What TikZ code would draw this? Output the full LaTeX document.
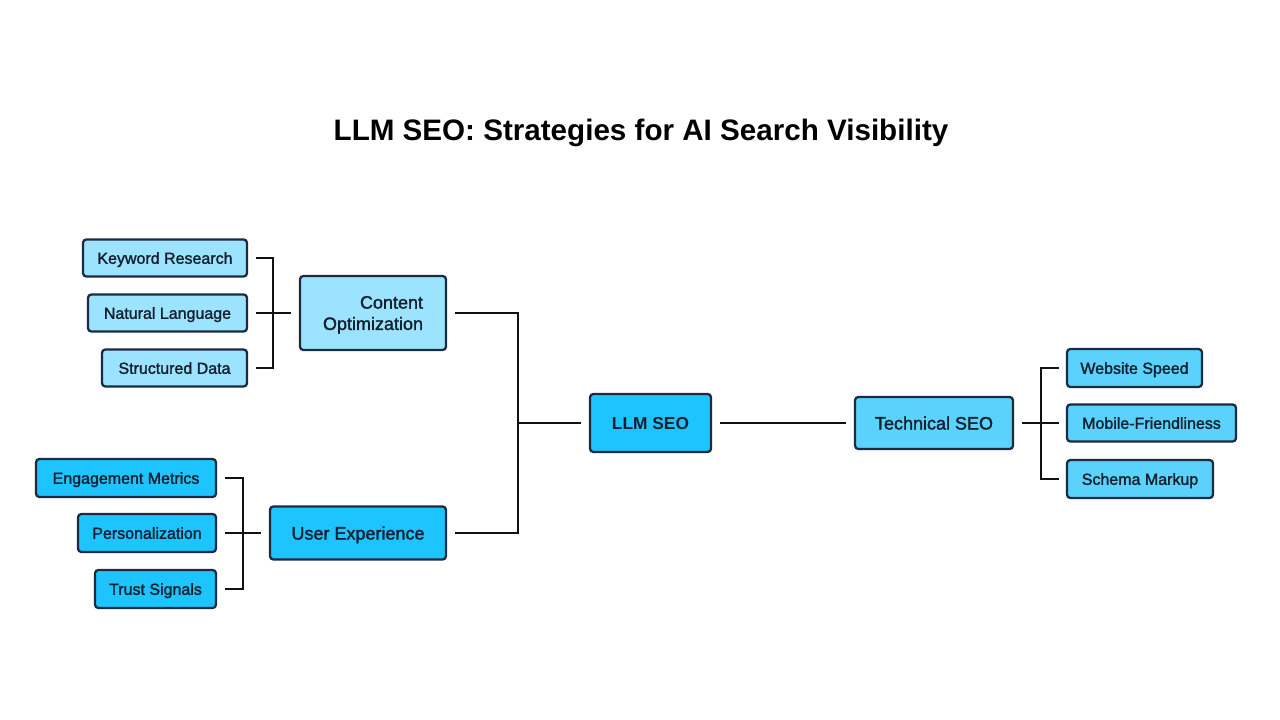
\documentclass[tikz,border=0pt]{standalone}
\usepackage{fontspec}
\setmainfont{Liberation Sans}
\newfontfamily\labfont[FakeBold=1.6]{Liberation Sans}
\newfontfamily\titfont{Liberation Sans}
\begin{document}
\begin{tikzpicture}[x=0.75pt,y=-0.75pt,
  box/.style={draw=boxline, line width=1.7pt, rounded corners=2.5pt, inner sep=0pt, text depth=0pt, text=textc, font=\labfont\fontsize{12}{13}\selectfont},
  light/.style={box, fill=lightc},
  mid/.style={box, fill=midc},
  strong/.style={box, fill=strongc},
  big/.style={font=\labfont\fontsize{13.5}{16}\selectfont},
  conn/.style={draw=linec, line width=1.9pt}]
\definecolor{lightc}{HTML}{9CE3FF}
\definecolor{midc}{HTML}{5AD2FB}
\definecolor{strongc}{HTML}{1DC4FF}
\definecolor{boxline}{HTML}{1C2B40}
\definecolor{textc}{HTML}{14202E}
\definecolor{linec}{HTML}{111111}
\useasboundingbox[fill=white] (0,0) rectangle (1280,720);

\node[font=\titfont\bfseries\fontsize{22.2}{26}\selectfont, text=black] (title) at (641,133) {LLM SEO: Strategies for AI Search Visibility};

% Content group
\node[light, minimum width=123pt, minimum height=27.75pt] (kw) at (165,258) {Keyword Research};
\node[light, minimum width=119.25pt, minimum height=27.75pt] (nl) at (167.5,313) {Natural Language};
\node[light, minimum width=108.75pt, minimum height=27.75pt] (sd) at (174.5,368) {Structured Data};
\node[light, big, align=right, minimum width=109.5pt, minimum height=55.5pt] (co) at (373,313) {Content\\Optimization};

% User experience group
\node[strong, minimum width=135pt, minimum height=28.5pt] (em) at (126,478) {Engagement Metrics};
\node[strong, minimum width=103.5pt, minimum height=28.5pt] (pe) at (147,533) {Personalization};
\node[strong, minimum width=90.75pt, minimum height=28.5pt] (ts) at (155.5,589) {Trust Signals};
\node[strong, big, minimum width=132pt, minimum height=39.75pt] (ux) at (358,533) {User Experience};

% Center
\node[strong, font=\titfont\bfseries\fontsize{13}{16}\selectfont, minimum width=90.75pt, minimum height=43.5pt] (llm) at (650.5,423) {LLM SEO};

% Technical group
\node[mid, big, minimum width=118.5pt, minimum height=39pt] (tech) at (934,423) {Technical SEO};
\node[mid, minimum width=101.25pt, minimum height=28.5pt] (ws) at (1134.5,368) {Website Speed};
\node[mid, minimum width=126.75pt, minimum height=27.75pt] (mf) at (1151.5,423) {Mobile-Friendliness};
\node[mid, minimum width=109.5pt, minimum height=28.5pt] (sm) at (1140,479) {Schema Markup};

% bus points
\coordinate (cbus) at (273,313);
\coordinate (ubus) at (243,533);
\coordinate (mbus) at (518,423);
\coordinate (tbus) at (1041,423);

% Content connectors
\draw[conn] ([xshift=6pt]kw.east) -| (cbus);
\draw[conn] ([xshift=6pt]sd.east) -| (cbus);
\draw[conn] ([xshift=6pt]nl.east) -- ([xshift=-6pt]co.west);

% UX connectors
\draw[conn] ([xshift=6pt]em.east) -| (ubus);
\draw[conn] ([xshift=6pt]ts.east) -| (ubus);
\draw[conn] ([xshift=6pt]pe.east) -- ([xshift=-6pt]ux.west);

% Main connectors
\draw[conn] ([xshift=6pt]co.east) -| (mbus);
\draw[conn] ([xshift=6pt]ux.east) -| (mbus);
\draw[conn] (mbus) -- ([xshift=-6pt]llm.west);
\draw[conn] ([xshift=6pt]llm.east) -- ([xshift=-6pt]tech.west);

% Technical connectors
\draw[conn] ([xshift=-5pt]ws.west) -| (tbus);
\draw[conn] ([xshift=-5pt]sm.west) -| (tbus);
\draw[conn] ([xshift=6pt]tech.east) -- ([xshift=-5pt]mf.west);
\end{tikzpicture}
\end{document}
